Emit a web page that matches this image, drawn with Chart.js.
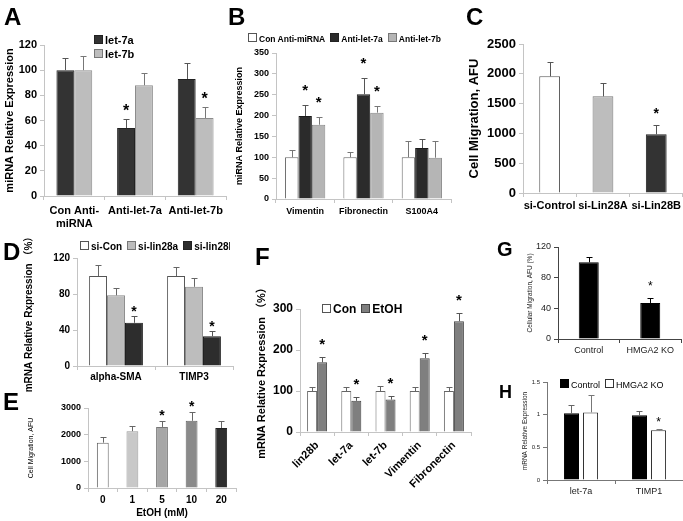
<!DOCTYPE html>
<html>
<head>
<meta charset="utf-8">
<script src="https://cdn.jsdelivr.net/npm/chart.js@4.4.1/dist/chart.umd.min.js"></script>
<style>
html, body { margin: 0; padding: 0; background: #fff; }
#fig { position: relative; width: 683px; height: 521px; overflow: hidden;
       font-family: "Liberation Sans", Arial, "Noto Sans CJK SC", sans-serif; }
#fig canvas { position: absolute; }
.letter { position: absolute; font-weight: bold; font-size: 24px; line-height: 1; }
.legend { position: absolute; white-space: nowrap; line-height: 1; overflow: hidden; }
.legend .item { display: inline-block; margin-right: 5px; }
.legend .sw { display: inline-block; width: 7px; height: 7px; border: 1px solid #444; margin-right: 2px; }
</style>
</head>
<body>
<div id="fig"></div>
<script>
// ---- data ----
// A
const aLabels = [['Con Anti-', 'miRNA'], 'Anti-let-7a', 'Anti-let-7b'];
const aLet7a = [100, 54, 93];
const aLet7aErr = [10, 7, 13];
const aLet7aStar = [0, 1, 0];
const aLet7b = [100, 88, 62];
const aLet7bErr = [11, 10, 9];
const aLet7bStar = [0, 0, 1];
const aTicks = [0, 20, 40, 60, 80, 100, 120];

// B
const bLabels = ['Vimentin', 'Fibronectin', 'S100A4'];
const bCon = [100, 100, 100];
const bConErr = [17, 13, 38];
const bAnti7a = [199, 251, 122];
const bAnti7aErr = [26, 38, 22];
const bAnti7aStar = [1, 1, 0];
const bAnti7b = [178, 207, 99];
const bAnti7bErr = [19, 16, 40];
const bAnti7bStar = [1, 1, 0];
const bTicks = [0, 50, 100, 150, 200, 250, 300, 350];

// C
const cLabels = ['si-Control', 'si-Lin28A', 'si-Lin28B'];
const cValues = [1957, 1622, 984];
const cErr = [245, 224, 152];
const cStar = [0, 0, 1];
const cTicks = [0, 500, 1000, 1500, 2000, 2500];

// D
const dLabels = ['alpha-SMA', 'TIMP3'];
const dCon = [100, 100];
const dConErr = [12.6, 10];
const dLin28a = [78.5, 88];
const dLin28aErr = [8.5, 10];
const dLin28b = [48, 33];
const dLin28bErr = [8, 6];
const dLin28bStar = [1, 1];
const dTicks = [0, 40, 80, 120];

// E
const eLabels = ['0', '1', '5', '10', '20'];
const eValues = [1700, 2130, 2290, 2520, 2250];
const eErr = [230, 200, 210, 330, 260];
const eStar = [0, 0, 1, 1, 0];
const eTicks = [0, 1000, 2000, 3000];

// F
const fLabels = ['lin28b', 'let-7a', 'let-7b', 'Vimentin', 'Fibronectin'];
const fCon = [100, 100, 100, 100, 100];
const fConErr = [10, 10, 12, 9, 10];
const fEtoh = [170, 76, 79, 180, 270];
const fEtohErr = [12, 10, 9, 13, 20];
const fEtohStar = [1, 1, 1, 1, 1];
const fTicks = [0, 100, 200, 300];

// G
const gLabels = ['Control', 'HMGA2 KO'];
const gValues = [100, 47];
const gErr = [7, 6];
const gStar = [0, 1];
const gTicks = [0, 40, 80, 120];

// H
const hLabels = ['let-7a', 'TIMP1'];
const hControl = [1.02, 0.99];
const hControlErr = [0.13, 0.07];
const hKO = [1.035, 0.76];
const hKOErr = [0.27, 0.02];
const hKOStar = [0, 1];
const hTicks = [0, 0.5, 1, 1.5];

const FAM = '"Liberation Sans", Arial, "Noto Sans CJK SC", sans-serif';
const fig = document.getElementById('fig');

// error bars + significance stars
const errorBars = {
    id: 'errorBars',
    afterDatasetsDraw(chart, args, o) {
        const ctx = chart.ctx;
        const ys = chart.scales.y;
        chart.data.datasets.forEach((ds, i) => {
            chart.getDatasetMeta(i).data.forEach((bar, j) => {
                const top = Math.round(ys.getPixelForValue(ds.data[j] + ds.errors[j])) + 0.5;
                const x = Math.round(bar.x) + 0.5;
                ctx.save();
                ctx.strokeStyle = ds.errorColor || '#444';
                ctx.lineWidth = 1;
                ctx.beginPath();
                ctx.moveTo(x, bar.y);
                ctx.lineTo(x, top);
                ctx.moveTo(x - o.cap, top);
                ctx.lineTo(x + o.cap, top);
                ctx.stroke();
                if (ds.stars && ds.stars[j]) {
                    ctx.fillStyle = '#000';
                    ctx.font = o.starFont;
                    ctx.textAlign = 'center';
                    ctx.textBaseline = 'alphabetic';
                    ctx.fillText('*', bar.x, top - o.starGap + o.starSize * 0.58);
                }
                ctx.restore();
            });
        });
    }
};

function font(size, weight, family) {
    return { size: size, weight: weight || 'bold', family: family || FAM };
}

function addPanel(p) {
    const [bx, by, bw, bh] = p.box;
    const [pl, pt, pr, pb] = p.plot;
    const cv = document.createElement('canvas');
    cv.width = bw;
    cv.height = bh;
    cv.style.left = bx + 'px';
    cv.style.top = by + 'px';
    fig.appendChild(cv);
    const axis = p.axisColor || '#c4c4c4';
    return new Chart(cv, {
        type: 'bar',
        data: { labels: p.labels, datasets: p.datasets },
        options: {
            responsive: false,
            animation: false,
            devicePixelRatio: 1,
            layout: { padding: { left: 0, top: pt - by, right: bx + bw - pr, bottom: 0 } },
            datasets: { bar: { categoryPercentage: p.cat, barPercentage: p.barPct || 1, borderWidth: 1 } },
            plugins: {
                legend: { display: false },
                tooltip: { enabled: false },
                errorBars: p.err
            },
            scales: {
                x: {
                    offset: true,
                    grid: { drawOnChartArea: false, offset: true, color: axis, tickLength: 4 },
                    border: { color: axis },
                    ticks: {
                        font: p.xFont, color: p.textColor || '#000', padding: p.xPad || 2,
                        autoSkip: false, maxRotation: p.rot || 0, minRotation: p.rot || 0
                    },
                    title: p.xTitle ? { display: true, text: p.xTitle, font: p.xTitleFont,
                                        color: '#000', padding: { top: 0, bottom: 2 } } : { display: false },
                    afterFit: s => { s.height = by + bh - pb; }
                },
                y: {
                    min: p.ticks[0],
                    max: p.ticks[p.ticks.length - 1],
                    afterBuildTicks: s => { s.ticks = p.ticks.map(v => ({ value: v })); },
                    grid: { drawOnChartArea: false, color: axis, tickLength: 4 },
                    border: { color: axis },
                    ticks: { font: p.yFont, color: p.textColor || '#000', padding: 3,
                             callback: v => String(v) },
                    title: { display: true, text: p.yTitle, font: p.yTitleFont, color: p.textColor || '#000',
                             padding: { top: p.yTitlePad, bottom: 0 } },
                    afterFit: s => { s.width = pl - bx; }
                }
            }
        },
        plugins: [errorBars]
    });
}

function addLetter(ch, x, y, size) {
    const d = document.createElement('div');
    d.className = 'letter';
    d.textContent = ch;
    d.style.left = x + 'px';
    d.style.top = y + 'px';
    if (size) d.style.fontSize = size + 'px';
    fig.appendChild(d);
}

function addLegend(x, y, size, weight, items, vertical, width) {
    const d = document.createElement('div');
    d.className = 'legend';
    d.style.left = x + 'px';
    d.style.top = y + 'px';
    d.style.fontSize = size + 'px';
    d.style.fontWeight = weight;
    if (width) d.style.width = width + 'px';
    fig.appendChild(d);
    items.forEach(it => {
        const s = document.createElement('span');
        s.className = 'item';
        if (vertical) { s.style.display = 'block'; s.style.marginBottom = '3px'; }
        s.innerHTML = '<span class="sw" style="background:' + it.fill + ';border-color:' + it.stroke + '"></span>' + it.text;
        d.appendChild(s);
    });
}

// ---- A ----
addPanel({
    box: [0, 28, 232, 212], plot: [44, 45, 226, 196],
    labels: aLabels, ticks: aTicks, cat: 0.59,
    yTitle: 'miRNA Relative Expression', yTitleFont: font(11), yTitlePad: 3,
    yFont: font(11), xFont: font(11), xPad: 4,
    err: { cap: 3, starFont: 'bold 16px ' + FAM, starSize: 16, starGap: 13 },
    datasets: [
        { label: 'let-7a', data: aLet7a, errors: aLet7aErr, stars: aLet7aStar,
          backgroundColor: '#333333', borderColor: '#222222', errorColor: '#555' },
        { label: 'let-7b', data: aLet7b, errors: aLet7bErr, stars: aLet7bStar,
          backgroundColor: '#bdbdbd', borderColor: '#8c8c8c', errorColor: '#777' }
    ]
});
addLegend(94, 35, 11, 'bold', [
    { text: 'let-7a', fill: '#333', stroke: '#222' },
    { text: 'let-7b', fill: '#bdbdbd', stroke: '#777' }
], true);
addLetter('A', 4, 5);

// ---- B ----
addPanel({
    box: [226, 28, 232, 200], plot: [276, 53, 451, 199],
    labels: bLabels, ticks: bTicks, cat: 0.69,
    yTitle: 'miRNA Relative Expression', yTitleFont: font(9), yTitlePad: 8,
    yFont: font(9), xFont: font(9), xPad: 3,
    err: { cap: 3, starFont: 'bold 15px ' + FAM, starSize: 15, starGap: 19 },
    datasets: [
        { label: 'Con Anti-miRNA', data: bCon, errors: bConErr,
          backgroundColor: '#ffffff', borderColor: '#666666', errorColor: '#777' },
        { label: 'Anti-let-7a', data: bAnti7a, errors: bAnti7aErr, stars: bAnti7aStar,
          backgroundColor: '#2b2b2b', borderColor: '#1a1a1a', errorColor: '#555' },
        { label: 'Anti-let-7b', data: bAnti7b, errors: bAnti7bErr, stars: bAnti7bStar,
          backgroundColor: '#b5b5b5', borderColor: '#888888', errorColor: '#777' }
    ]
});
addLegend(248, 33, 8.5, 'bold', [
    { text: 'Con Anti-miRNA', fill: '#fff', stroke: '#555' },
    { text: 'Anti-let-7a', fill: '#2b2b2b', stroke: '#222' },
    { text: 'Anti-let-7b', fill: '#b5b5b5', stroke: '#777' }
]);
addLetter('B', 228, 5);

// ---- C ----
addPanel({
    box: [452, 28, 231, 200], plot: [523, 44, 683, 193],
    labels: cLabels, ticks: cTicks, cat: 0.39,
    yTitle: 'Cell Migration, AFU', yTitleFont: font(13), yTitlePad: 15,
    yFont: font(13), xFont: font(11), xPad: 2,
    err: { cap: 3, starFont: 'bold 14px ' + FAM, starSize: 14, starGap: 16 },
    datasets: [
        { label: 'Cell migration', data: cValues, errors: cErr, stars: cStar,
          backgroundColor: ['#ffffff', '#bdbdbd', '#333333'],
          borderColor: ['#555555', '#777777', '#222222'], errorColor: '#555' }
    ]
});
addLetter('C', 466, 5);

// ---- D ----
addPanel({
    box: [0, 220, 238, 182], plot: [77, 258, 233, 366],
    labels: dLabels, ticks: dTicks, cat: 0.69,
    yTitle: 'mRNA Relative Rxpression \uFF08%\uFF09', yTitleFont: font(10), yTitlePad: 23,
    yFont: font(10), xFont: font(10), xPad: 1,
    err: { cap: 3, starFont: 'bold 14px ' + FAM, starSize: 14, starGap: 9 },
    datasets: [
        { label: 'si-Con', data: dCon, errors: dConErr,
          backgroundColor: '#ffffff', borderColor: '#555555', errorColor: '#666' },
        { label: 'si-lin28a', data: dLin28a, errors: dLin28aErr,
          backgroundColor: '#bdbdbd', borderColor: '#888888', errorColor: '#666' },
        { label: 'si-lin28b', data: dLin28b, errors: dLin28bErr, stars: dLin28bStar,
          backgroundColor: '#2d2d2d', borderColor: '#1a1a1a', errorColor: '#555' }
    ]
});
addLegend(80, 241, 10, 'bold', [
    { text: 'si-Con', fill: '#fff', stroke: '#555' },
    { text: 'si-lin28a', fill: '#bdbdbd', stroke: '#777' },
    { text: 'si-lin28b', fill: '#2d2d2d', stroke: '#222' }
], false, 150);
addLetter('D', 3, 240);

// ---- E ----
addPanel({
    box: [0, 392, 240, 129], plot: [88, 408, 236, 488],
    labels: eLabels, ticks: eTicks, cat: 0.4,
    yTitle: 'Cell Migration, AFU', yTitleFont: font(7, 'normal'), yTitlePad: 27,
    yFont: font(9), xFont: font(10), xPad: 2,
    xTitle: 'EtOH (mM)', xTitleFont: font(10),
    err: { cap: 3, starFont: 'bold 14px ' + FAM, starSize: 14, starGap: 10 },
    datasets: [
        { label: 'Cell migration', data: eValues, errors: eErr, stars: eStar,
          backgroundColor: ['#ffffff', '#c8c8c8', '#a6a6a6', '#8a8a8a', '#2e2e2e'],
          borderColor: ['#666666', '#999999', '#777777', '#666666', '#222222'], errorColor: '#666' }
    ]
});
addLetter('E', 3, 390);

// ---- F ----
addPanel({
    box: [228, 262, 250, 259], plot: [300, 309, 471, 432],
    labels: fLabels, ticks: fTicks, cat: 0.585, rot: 45,
    yTitle: 'mRNA Relative Rxpression \uFF08%\uFF09', yTitleFont: font(11), yTitlePad: 27.5,
    yFont: font(12), xFont: font(11), xPad: 3,
    err: { cap: 3, starFont: 'bold 15px ' + FAM, starSize: 15, starGap: 17 },
    datasets: [
        { label: 'Con', data: fCon, errors: fConErr,
          backgroundColor: '#ffffff', borderColor: '#666666', errorColor: '#666' },
        { label: 'EtOH', data: fEtoh, errors: fEtohErr, stars: fEtohStar,
          backgroundColor: '#7f7f7f', borderColor: '#444444', errorColor: '#555' }
    ]
});
addLegend(322, 303, 12, 'bold', [
    { text: 'Con', fill: '#fff', stroke: '#555' },
    { text: 'EtOH', fill: '#7f7f7f', stroke: '#444' }
]);
addLetter('F', 255, 245);

// ---- G ----
addPanel({
    box: [515, 232, 168, 128], plot: [558, 247, 681, 339],
    labels: gLabels, ticks: gTicks, cat: 0.325, axisColor: '#444',
    textColor: '#222',
    yTitle: 'Cellular Migration, AFU (%)', yTitleFont: font(6.5, 'normal'), yTitlePad: 11.8,
    yFont: font(9, 'normal'), xFont: font(9, 'normal'), xPad: 2,
    err: { cap: 3, starFont: '12px ' + FAM, starSize: 12, starGap: 15 },
    datasets: [
        { label: 'Migration', data: gValues, errors: gErr, stars: gStar,
          backgroundColor: '#000000', borderColor: '#000000', errorColor: '#000' }
    ]
});
addLetter('G', 497, 239, 20);

// ---- H ----
addPanel({
    box: [512, 372, 171, 128], plot: [547, 382, 683, 480],
    labels: hLabels, ticks: hTicks, cat: 0.56, barPct: 0.79, axisColor: '#777',
    textColor: '#222',
    yTitle: 'mRNA Relative Expression', yTitleFont: font(6.5, 'normal'), yTitlePad: 9.8,
    yFont: font(6, 'normal'), xFont: font(9, 'normal'), xPad: 2,
    err: { cap: 3, starFont: '12px ' + FAM, starSize: 12, starGap: 10 },
    datasets: [
        { label: 'Control', data: hControl, errors: hControlErr,
          backgroundColor: '#000000', borderColor: '#000000', errorColor: '#666' },
        { label: 'HMGA2 KO', data: hKO, errors: hKOErr, stars: hKOStar,
          backgroundColor: '#ffffff', borderColor: '#333333', errorColor: '#777' }
    ]
});
addLegend(560, 379, 9, 'normal', [
    { text: 'Control', fill: '#000', stroke: '#000' },
    { text: 'HMGA2 KO', fill: '#fff', stroke: '#333' }
]);
addLetter('H', 499, 383, 18);
</script>
</body>
</html>
